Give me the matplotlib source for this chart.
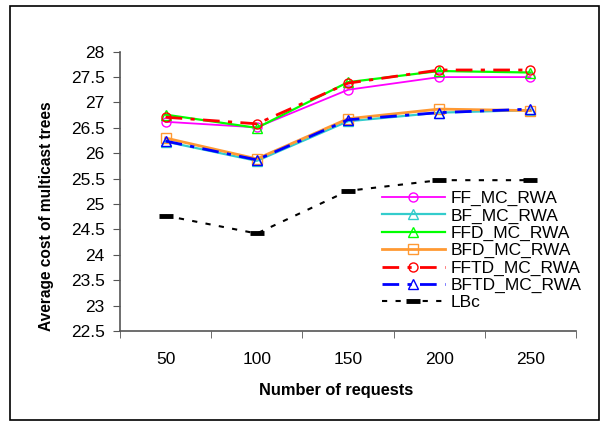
import matplotlib
matplotlib.use("Agg")
import matplotlib.pyplot as plt
from matplotlib.patches import Rectangle

plt.rcParams['font.family'] = ['Liberation Sans', 'DejaVu Sans']

# dados
requests = ['50', '100', '150', '200', '250']
ff_mc = [26.62, 26.51, 27.25, 27.50, 27.50]
bf_mc = [26.23, 25.85, 26.63, 26.80, 26.85]
ffd_mc = [26.76, 26.50, 27.40, 27.62, 27.59]
bfd_mc = [26.30, 25.89, 26.68, 26.87, 26.84]
fftd_mc = [26.71, 26.58, 27.38, 27.64, 27.64]
bftd_mc = [26.24, 25.87, 26.66, 26.80, 26.87]
lbc = [24.77, 24.42, 25.26, 25.47, 25.47]

series = [
    ('FF_MC_RWA', ff_mc, '#FF00FF', '-', 'o', 1.3),
    ('BF_MC_RWA', bf_mc, '#33CCCC', '-', '^', 1.6),
    ('FFD_MC_RWA', ffd_mc, '#00FF00', '-', '^', 1.6),
    ('BFD_MC_RWA', bfd_mc, '#FF9933', '-', 's', 2.0),
    ('FFTD_MC_RWA', fftd_mc, '#FF0000', (0, (6, 3, 1.5, 3)), 'o', 2.0),
    ('BFTD_MC_RWA', bftd_mc, '#0000FF', (0, (6, 3, 1.5, 3)), '^', 2.0),
]

W, H = 607, 422
fig = plt.figure(figsize=(W / 100, H / 100), dpi=100)
fig.patches.append(Rectangle((10 / W, 2 / H), 589 / W, 414 / H,
                             transform=fig.transFigure, fill=False,
                             edgecolor='black', linewidth=1.2))

ax = fig.add_axes([120 / W, 1 - 331 / H, 456 / W, 279.3 / H])
x = list(range(len(requests)))

for nome, vals, cor, ls, mk, lw in series:
    ax.plot(x, vals, color=cor, linestyle=ls, linewidth=lw, marker=mk,
            markersize=6.5, markerfacecolor='none', markeredgecolor=cor,
            markeredgewidth=1.0, label=nome)

ax.plot(x, lbc, color='black', linestyle=(0, (2.5, 4)), linewidth=1.5,
        marker='_', markersize=10, markeredgewidth=3.5, label='LBc')

ax.set_xlim(-0.5, len(requests) - 0.5)
ax.set_ylim(22.5, 28)
ax.set_yticks([22.5 + 0.5 * i for i in range(12)])
ax.set_yticklabels([f'{22.5 + 0.5 * i:g}' for i in range(12)])
ax.set_xticks(x)
ax.set_xticklabels(requests)
ax.set_xticks([i - 0.5 for i in range(len(requests) + 1)], minor=True)
ax.tick_params(axis='x', which='major', length=0, pad=15, labelsize=12.5)
ax.tick_params(axis='x', which='minor', length=5, direction='out', color='#555555')
ax.tick_params(axis='y', length=5, direction='out', color='#555555', labelsize=12.5, pad=6)

for s in ['top', 'right']:
    ax.spines[s].set_visible(False)
for s in ['left', 'bottom']:
    ax.spines[s].set_color('#555555')
    ax.spines[s].set_linewidth(1.2)

fig.text(336.5 / W, 1 - 390.7 / H, 'Number of requests', fontweight='bold',
         fontsize=11.8, ha='center', va='center')
fig.text(47 / W, 1 - 216 / H, 'Average cost of multicast trees', fontweight='bold',
         fontsize=11.2, ha='center', va='center', rotation=90)

ax.legend(loc='upper left', bbox_to_anchor=(382 / W, 1 - 191 / H),
          bbox_transform=fig.transFigure, frameon=False, fontsize=12.5,
          handlelength=3.6, handletextpad=0.35, labelspacing=0.12,
          borderaxespad=0, borderpad=0)

fig.savefig('out.png', dpi=100)
